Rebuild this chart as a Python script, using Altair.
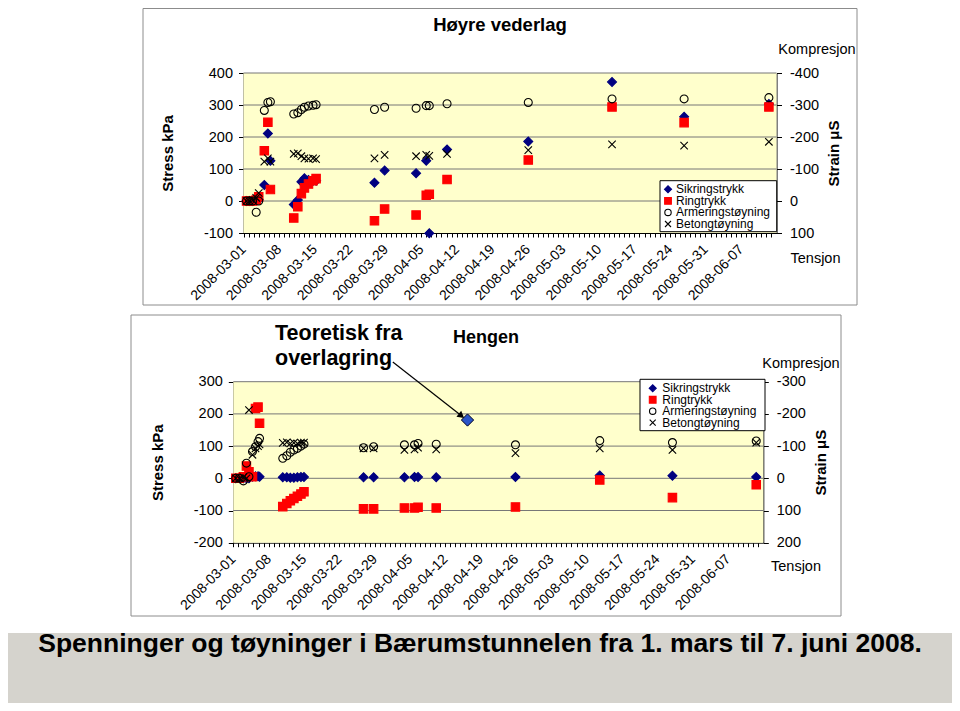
import json
import pandas as pd
import altair as alt

FONT = "Liberation Sans, Arial, sans-serif"
NARROW = "'Liberation Sans Narrow', 'Arial Narrow', 'Liberation Sans', sans-serif"

SERIES = ["Sikringstrykk", "Ringtrykk", "Armeringstøyning", "Betongtøyning"]
WEEK_LABELS = ["2008-03-01", "2008-03-08", "2008-03-15", "2008-03-22", "2008-03-29",
               "2008-04-05", "2008-04-12", "2008-04-19", "2008-04-26", "2008-05-03",
               "2008-05-10", "2008-05-17", "2008-05-24", "2008-05-31", "2008-06-07"]

# ---- Top chart: Høyre vederlag (days after 2008-03-01) ----
t_top = [0.6, 1.2, 1.8, 2.5, 3.0, 4.1, 4.8, 5.3, 9.9, 10.7, 11.4, 12.0, 12.8, 13.7, 14.3,
         25.8, 27.8, 34.0, 36.0, 36.6, 40.1, 56.1, 72.6, 86.8, 103.5]
sik_top = [0, 0, 0, 3, 5, 50, 211, 126, -11, 3, 60, 71, 66, 63, 63,
           57, 95, 87, 126, -101, 161, 186, 372, 263, 303]
ring_top = [0, 0, 0, 3, 13, 157, 246, 36, -53, -18, 23, 41, 53, 63, 70,
            -62, -25, -44, 18, 21, 67, 128, 294, 245, 294]
arm_top = [0, 0, 0, 35, 0, -283, -308, -310, -272, -276, -286, -293, -297, -299, -301,
           -286, -293, -290, -298, -298, -304, -308, -319, -319, -323]
bet_top = [0, 0, -3, -10, -25, -123, -133, -123, -147, -149, -140, -133, -132, -133, -131,
           -133, -144, -140, -144, -141, -147, -159, -177, -173, -185]

# ---- Bottom chart: Hengen ----
t_bot = [0.5, 1.2, 2.0, 2.6, 3.1, 3.8, 4.4, 4.9, 5.2, 9.8, 10.6, 11.3, 12.0, 12.7, 13.4, 14.0,
         25.8, 27.8, 33.9, 35.9, 36.6, 40.2, 55.9, 72.6, 87.0, 103.6]
sik_bot = [0, 0, 0, 0, 0, 5, 6, 6, 5, 3, 3, 2, 2, 3, 4, 4,
           3, 3, 3, 4, 4, 3, 4, 9, 8, 4]
ring_bot = [0, 0, 5, 38, 20, 5, 217, 221, 171, -88, -78, -70, -63, -56, -49, -42,
            -95, -95, -92, -92, -90, -92, -89, -5, -60, -20]
arm_bot = [0, 0, 8, -47, -5, -83, -98, -114, -124, -62, -70, -81, -88, -93, -100, -106,
           -95, -98, -104, -104, -108, -106, -104, -117, -111, -116]
bet_bot = [0, 0, -3, 0, -212, -73, -93, -100, -105, -110, -112, -108, -110, -108, -111, -111,
           -93, -93, -88, -90, -95, -90, -78, -93, -88, -111]

hengen_day = [46.4]
hengen_stress = [181]
arrow_start = [31.6, 361]
arrow_end = [45.2, 194]

# ---- layout (pixels inside the 944 x 695 drawing) ----
W, H = 944, 695
TOP_X = [235.5, 768.5]
TOP_Y = [65, 225]
BOT_X = [225.3, 755.3]
BOT_Y = [373.7, 534.7]
DAY_DOMAIN = [0, 105]


def long_df(t, series_vals):
    rows = []
    for name, vals in series_vals:
        for d, v in zip(t, vals):
            rows.append({"day": d, "v": v, "series": name})
    return pd.DataFrame(rows)


one = pd.DataFrame({"k": [0]})

SHAPES = ["diamond", "square", "circle", "M-1,-1L1,1M-1,1L1,-1"]
shape_scale = alt.Scale(domain=SERIES, range=SHAPES)
fill_scale = alt.Scale(domain=SERIES, range=["#000080", "#FF0000", "transparent", "transparent"])
stroke_scale = alt.Scale(domain=SERIES, range=["#000080", "#FF0000", "#000000", "#000000"])
size_scale = alt.Scale(domain=SERIES, range=[80, 55, 45, 70])
leg_size_scale = alt.Scale(domain=SERIES, range=[50, 36, 30, 42])

label_expr = ("datum.value % 7 === 0 && datum.value <= 98 ? " + json.dumps(WEEK_LABELS)
              + "[datum.value / 7] : ''")


def x_enc(rng, plot_bottom):
    return alt.X("day:Q", scale=alt.Scale(domain=DAY_DOMAIN, range=rng, nice=False, zero=False),
                 axis=alt.Axis(orient="bottom", values=list(range(0, 105)), labelExpr=label_expr,
                               labelAngle=-45, labelAlign="right", labelBaseline="middle",
                               labelFont=FONT, labelFontSize=14, labelColor="black",
                               labelOverlap=False, labelFlush=False, labelPadding=10, tickSize=4,
                               tickColor="black", domainColor="black", grid=False, title=None,
                               offset=plot_bottom - H))


def y_stress(domain, yr, xr):
    return alt.Y("v:Q", scale=alt.Scale(domain=domain, range=[yr[1], yr[0]], nice=False, zero=False),
                 axis=alt.Axis(orient="left", values=list(range(domain[0], domain[1] + 1, 100)),
                               labelExpr="'' + datum.value", grid=False,
                               domainColor="black", tickColor="black", tickSize=5,
                               labelFont=FONT, labelFontSize=14.5, labelColor="black",
                               labelPadding=6, title="Stress kPa", titleFont=FONT,
                               titleFontSize=15, titleFontWeight="bold", titleColor="black",
                               titleX=-76, titleY=(yr[0] + yr[1]) / 2, titleAngle=-90,
                               titleAlign="center", titleBaseline="middle", offset=-xr[0]))


def y_strain(domain, yr, xr, title_x):
    return alt.Y("v:Q", scale=alt.Scale(domain=domain, range=[yr[0], yr[1]], nice=False, zero=False),
                 axis=alt.Axis(orient="right", values=list(range(domain[0], domain[1] + 1, 100)),
                               labelExpr="'' + datum.value", grid=False, domainColor="black",
                               tickColor="black", tickSize=5, labelFont=FONT, labelFontSize=14.5,
                               labelColor="black", labelPadding=8, labelAlign="left",
                               title="Strain \u03bcS", titleFont=FONT, titleFontSize=15,
                               titleFontWeight="bold", titleColor="black", titleX=title_x,
                               titleY=(yr[0] + yr[1]) / 2, titleAngle=-90, titleAlign="center",
                               titleBaseline="middle", offset=xr[1] - W))


def series_channels(sizes):
    return dict(
        shape=alt.Shape("series:N", scale=shape_scale, legend=None),
        fill=alt.Fill("series:N", scale=fill_scale, legend=None),
        stroke=alt.Stroke("series:N", scale=stroke_scale, legend=None),
        size=alt.Size("series:N", scale=sizes, legend=None),
    )


def points(df, xenc, yenc):
    return alt.Chart(df).mark_point(opacity=1, strokeWidth=1.1).encode(
        x=xenc, y=yenc, **series_channels(size_scale))


def backdrop(xenc, yenc, domain):
    bg = alt.Chart(pd.DataFrame({"day": [DAY_DOMAIN[0]], "day2": [DAY_DOMAIN[1]],
                                 "v": [domain[0]], "v2": [domain[1]]})).mark_rect(
        color="#FFFFCC").encode(x=xenc, x2="day2:Q", y=yenc, y2="v2:Q")
    grid_vals = list(range(domain[0] + 100, domain[1] + 1, 100))
    grid = alt.Chart(pd.DataFrame({"v": grid_vals, "day": [DAY_DOMAIN[0]] * len(grid_vals),
                                   "day2": [DAY_DOMAIN[1]] * len(grid_vals)})).mark_rule(
        color="#777777", strokeWidth=1).encode(x=xenc, x2="day2:Q", y=yenc)
    return bg, grid


def box(x1, x2, y1, y2, **kw):
    return alt.Chart(one).mark_rect(**kw).encode(
        x=alt.value(x1), x2=alt.value(x2), y=alt.value(y1), y2=alt.value(y2))


def label(txt, x, y, size, weight="normal", align="center", font=FONT, baseline="middle"):
    return alt.Chart(one).mark_text(text=txt, font=font, fontSize=size, fontWeight=weight,
                                    align=align, baseline=baseline, color="black").encode(
        x=alt.value(x), y=alt.value(y))


def manual_legend(bx, sym_x, txt_x, rows):
    ldf = pd.DataFrame({"series": SERIES})
    yenc = alt.Y("series:N", scale=alt.Scale(type="point", domain=SERIES, range=rows, padding=0),
                 axis=None)
    frame = box(*bx, fill="white", stroke="black", strokeWidth=1)
    sym = alt.Chart(ldf).mark_point(opacity=1, strokeWidth=1.1).encode(
        x=alt.value(sym_x), y=yenc, **series_channels(leg_size_scale))
    txt = alt.Chart(ldf).mark_text(align="left", baseline="middle", font=FONT, fontSize=12,
                                   color="black").encode(x=alt.value(txt_x), y=yenc,
                                                         text="series:N")
    return [frame, sym, txt]


# ---------------- top chart ----------------
xt = x_enc(TOP_X, TOP_Y[1])
yst = y_stress([-100, 400], TOP_Y, TOP_X)
ystr = y_strain([-400, 100], TOP_Y, TOP_X, 57)
bg_t, grid_t = backdrop(xt, yst, [-100, 400])
top_stress = alt.layer(
    bg_t, grid_t,
    points(long_df(t_top, [("Sikringstrykk", sik_top), ("Ringtrykk", ring_top)]), xt, yst),
)
top_strain = points(long_df(t_top, [("Armeringstøyning", arm_top), ("Betongtøyning", bet_top)]),
                    xt, ystr)
top_group = alt.layer(top_stress, top_strain).resolve_scale(y="independent")

# ---------------- bottom chart ----------------
xb = x_enc(BOT_X, BOT_Y[1])
ysb = y_stress([-200, 300], BOT_Y, BOT_X)
ysbr = y_strain([-300, 200], BOT_Y, BOT_X, 56.7)
bg_b, grid_b = backdrop(xb, ysb, [-200, 300])
hengen = alt.Chart(pd.DataFrame({"day": hengen_day, "v": hengen_stress})).mark_point(
    shape="diamond", filled=True, fill="#2A55C8", stroke="#000020", strokeWidth=1,
    size=150, opacity=1).encode(x=xb, y=ysb)
arrow_df = pd.DataFrame({"day": [arrow_start[0]], "v": [arrow_start[1]],
                         "day2": [arrow_end[0]], "v2": [arrow_end[1]]})
arrow_line = alt.Chart(arrow_df).mark_rule(color="black", strokeWidth=1.2).encode(
    x=xb, x2="day2:Q", y=ysb, y2="v2:Q")
arrow_head = alt.Chart(pd.DataFrame({"day": [arrow_end[0]], "v": [arrow_end[1]]})).mark_point(
    shape="triangle-right", angle=38, filled=True, color="black", size=60, opacity=1).encode(
    x=xb, y=ysb)
bot_stress = alt.layer(
    bg_b, grid_b,
    points(long_df(t_bot, [("Sikringstrykk", sik_bot), ("Ringtrykk", ring_bot)]), xb, ysb),
    arrow_line, arrow_head, hengen,
)
bot_strain = points(long_df(t_bot, [("Armeringstøyning", arm_bot), ("Betongtøyning", bet_bot)]),
                    xb, ysbr)
bot_group = alt.layer(bot_stress, bot_strain).resolve_scale(y="independent")

# ---------------- decorations ----------------
decor = [
    box(135, 849, 0.5, 297, fill="transparent", stroke="#8c8c8c", strokeWidth=1),
    box(123, 833, 307, 608, fill="transparent", stroke="#8c8c8c", strokeWidth=1),
    box(0, W, 625, H, fill="#D5D3CD", strokeWidth=0),
]
legends = (manual_legend((652, 768.7, 172.7, 223.7), 660, 668, [181.3, 216])
           + manual_legend((632, 757, 371.3, 422.7), 644.7, 654.3, [380.3, 414.7]))
texts = [
    label("Høyre vederlag", 492, 17, 18.5, "bold"),
    label("Kompresjon", 809, 42, 14.5),
    label("Tensjon", 807.5, 251, 14.5),
    label("Hengen", 478, 330, 18, "bold"),
    label("Teoretisk fra", 267, 326, 21.5, "bold", "left", NARROW),
    label("overlagring", 267, 351, 21.5, "bold", "left", NARROW),
    label("Kompresjon", 793, 356, 14.5),
    label("Tensjon", 788, 559, 14.5),
    label("Spenninger og tøyninger i Bærumstunnelen fra 1. mars til 7. juni 2008.",
          472, 644, 26.5, "bold", "center", NARROW, "alphabetic"),
]

chart = alt.layer(*decor, top_group, bot_group, *legends, *texts).resolve_scale(
    x="independent", y="independent", shape="independent", fill="independent",
    stroke="independent", size="independent"
).properties(
    width=W, height=H, padding=0, autosize=alt.AutoSizeParams(type="none")
).configure_view(stroke="transparent")

chart.save("out.html", embed_options={"renderer": "svg", "actions": False})
